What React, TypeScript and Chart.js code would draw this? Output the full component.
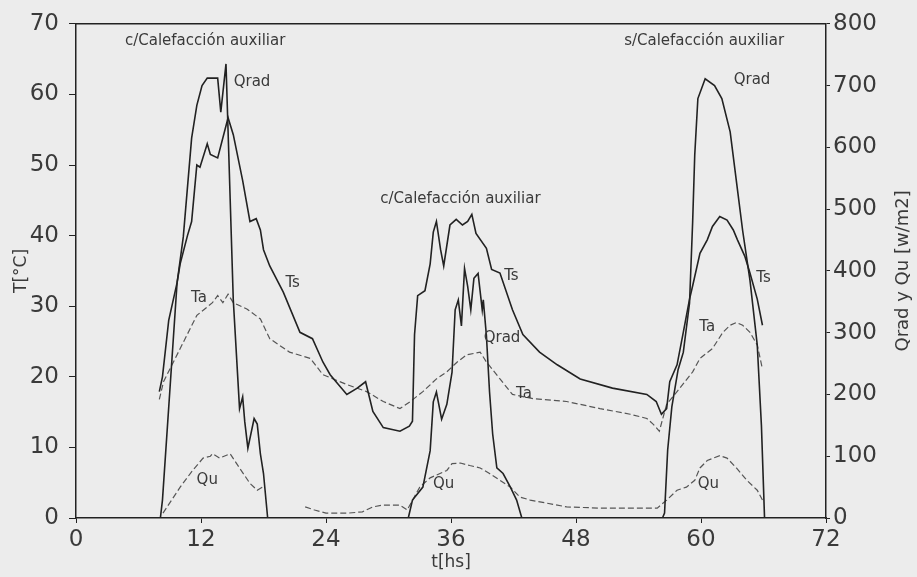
import React, { useEffect, useRef } from "react";
import { Chart, registerables } from "chart.js";

Chart.register(...registerables);

// ---- axis ticks ----
const hourTicks = [0, 12, 24, 36, 48, 60, 72];
const tempTicks = [0, 10, 20, 30, 40, 50, 60, 70];
const radTicks = [0, 100, 200, 300, 400, 500, 600, 700, 800];

// ---- Qrad (solid, W/m2, right axis) ----
const qradHours = [8.1, 8.3, 9.0, 9.7, 10.3, 11.1, 11.6, 12.1, 12.6, 13.6, 13.9, 14.4, 15.1, 15.7, 16.0, 16.2, 16.5, 17.1, 17.4, 17.7, 18.0, 18.4,
  31.9, 32.3, 33.3, 34.0, 34.3, 34.6, 35.1, 35.6, 36.1, 36.4, 36.7, 37.0, 37.3, 37.6, 37.9, 38.2, 38.6, 39.0, 39.1, 39.4, 39.7, 40.0, 40.4, 41.0, 41.7, 42.3, 42.8,
  56.3, 56.5, 56.8, 57.2, 57.8, 58.3, 58.9, 59.2, 59.4, 59.7, 60.4, 61.3, 62.0, 62.8, 63.4, 64.0, 64.7, 65.4, 65.8, 66.1];
const qradValues = [0, 29, 204, 380, 455, 615, 668, 700, 712, 712, 657, 735, 353, 177, 196, 156, 113, 161, 152, 104, 72, 0,
  0, 29, 50, 109, 188, 204, 160, 184, 236, 337, 353, 311, 404, 375, 337, 388, 396, 337, 353, 295, 204, 136, 81, 72, 50, 29, 0,
  0, 8, 110, 180, 240, 268, 348, 480, 588, 679, 711, 700, 679, 625, 545, 465, 385, 280, 150, 0];

// ---- Ts (solid, °C, left axis) ----
const tsHours = [8.0, 8.3, 8.9, 9.7, 10.0, 10.7, 11.1, 11.6, 11.9, 12.6, 12.9, 13.6, 14.6, 15.1, 16.0, 16.7, 17.3, 17.7, 18.0, 18.6, 19.9, 21.5, 22.7, 23.7, 24.4, 26.0, 27.0, 27.8, 28.5, 29.5, 31.1, 32.0, 32.3,
  32.5, 32.8, 33.5, 34.0, 34.3, 34.6, 35.0, 35.3, 35.9, 36.5, 37.1, 37.6, 38.0, 38.4, 39.4, 39.9, 40.7, 41.9, 42.9, 44.5, 46.2, 48.4, 51.5, 54.8, 55.7, 56.2,
  56.7, 57.0, 57.7, 58.3, 58.9, 59.2, 59.9, 60.6, 61.1, 61.8, 62.5, 63.1, 63.5, 64.2, 64.7, 65.4, 65.9];
const tsValues = [17.9, 20, 28, 33.3, 36, 40, 42, 50, 49.7, 53, 51.5, 51, 56.7, 54.3, 47.8, 42, 42.4, 40.8, 38, 35.7, 32, 26.3, 25.4, 22.1, 20.3, 17.5, 18.4, 19.3, 15.1, 12.8, 12.3, 13, 13.7,
  26, 31.5, 32.2, 36, 40.5, 42, 38, 35.7, 41.5, 42.3, 41.5, 42, 43, 40.3, 38.2, 35.2, 34.7, 29.5, 26, 23.5, 21.7, 19.7, 18.4, 17.5, 16.5, 14.7,
  15.5, 19.3, 21.7, 26.3, 31, 32.9, 37.5, 39.4, 41.3, 42.7, 42.2, 40.8, 39.4, 37.1, 34.7, 31, 27.3];

// ---- Ta (dashed, °C, left axis) ----
const taHours = [8.0, 8.4, 10.0, 11.6, 13.1, 13.6, 14.1, 14.6, 15.1, 16.4, 17.7, 18.6, 20.5, 22.5, 23.7, 26.0, 27.9, 29.5, 31.1, 32.1, 33.3, 34.6, 35.6, 36.6, 37.5, 38.8, 39.4, 40.7, 41.9, 43.9, 47.1, 50.3, 53.2, 54.8, 55.4, 56.0,
  56.7, 57.7, 59.2, 59.9, 61.1, 62.1, 62.8, 63.4, 64.0, 64.7, 65.4, 65.9];
const taValues = [16.8, 19.3, 24, 28.7, 30.5, 31.5, 30.5, 31.7, 30.5, 29.6, 28.2, 25.4, 23.5, 22.6, 20.3, 18.9, 17.9, 16.5, 15.5, 16.5, 17.9, 19.7, 20.7, 22.1, 23.1, 23.5, 22.1, 19.7, 17.5, 16.9, 16.5, 15.5, 14.7, 14.1, 13.3, 12.3,
  16.1, 17.9, 20.7, 22.6, 24, 26.3, 27.3, 27.7, 27.3, 26.3, 24.5, 21.1];

// ---- Qu (dashed, W/m2, right axis) ----
const quHours = [8.35, 10.0, 11.2, 12.2, 12.9, 13.1, 13.8, 14.8, 15.7, 16.7, 17.4, 17.9, 18.0, 22.0, 22.9, 24.0, 26.2, 27.5, 28.5, 29.5, 31.1, 31.8,
  33.0, 34.0, 35.6, 36.1, 36.9, 37.8, 38.8, 39.7, 40.7, 41.7, 42.6, 43.6, 45.2, 47.1, 50.3, 55.8,
  56.7, 57.7, 58.6, 59.4, 59.9, 60.6, 61.8, 62.5, 63.4, 64.4, 65.4, 65.9];
const quValues = [8, 50, 77, 97, 100, 104, 97, 104, 81, 56, 45, 50, null, 18, 13, 8, 8, 10, 18, 21, 21, 13,
  50, 65, 77, 88, 89, 85, 81, 72, 61, 50, 34, 29, 24, 18, 16, 16,
  29, 45, 50, 61, 81, 93, 101, 97, 81, 61, 45, 29];

// ---- in-plot notes (placed at hour / °C) ----
const noteTexts = ["c/Calefacción auxiliar", "Qrad", "Ts", "Ta", "Qu",
  "c/Calefacción auxiliar", "Ts", "Qrad", "Ta", "Qu",
  "s/Calefacción auxiliar", "Qrad", "Ts", "Ta", "Qu"];
const noteHours = [12.4, 16.9, 20.8, 11.8, 12.6, 36.9, 41.8, 40.9, 43.0, 35.3, 60.3, 64.9, 66.0, 60.6, 60.7];
const noteTemps = [67.6, 61.8, 33.3, 31.2, 5.3, 45.2, 34.2, 25.5, 17.5, 4.8, 67.6, 62.0, 34.0, 27.0, 4.8];

const xLabel = "t[hs]";
const yLabel = "T[°C]";
const y2Label = "Qrad y Qu [w/m2]";

const INK = "#222";
const TEXT = "#3a3a3a";
const FONT = "'DejaVu Sans', sans-serif";

function pts(xs: number[], ys: (number | null)[]) {
  return xs.map((x, i) => ({ x, y: ys[i] }));
}

const notesPlugin = {
  id: "notes",
  afterDatasetsDraw(chart: any) {
    const { ctx, chartArea, scales } = chart;
    ctx.save();
    ctx.strokeStyle = INK;
    ctx.lineWidth = 1.5;
    ctx.beginPath();
    ctx.moveTo(chartArea.left, chartArea.top);
    ctx.lineTo(chartArea.right, chartArea.top);
    ctx.stroke();

    ctx.fillStyle = TEXT;
    ctx.font = `15px ${FONT}`;
    ctx.textAlign = "center";
    ctx.textBaseline = "middle";
    noteTexts.forEach((t, i) => {
      ctx.fillText(t, scales.x.getPixelForValue(noteHours[i]), scales.y.getPixelForValue(noteTemps[i]));
    });

    const y2 = scales.y2;
    ctx.translate(y2.right - 14, (chartArea.top + chartArea.bottom) / 2);
    ctx.rotate(-Math.PI / 2);
    ctx.font = `18px ${FONT}`;
    ctx.fillText(y2Label, 0, 0);
    ctx.restore();
  },
};

export default function App() {
  const ref = useRef<HTMLCanvasElement | null>(null);
  useEffect(() => {
    if (!ref.current) return;
    const solid = { borderColor: INK, borderWidth: 1.6, pointRadius: 0, tension: 0, fill: false, spanGaps: false };
    const dashed = { borderColor: "#555", borderWidth: 1.2, borderDash: [6, 3], pointRadius: 0, tension: 0, fill: false, spanGaps: false };
    const chart = new Chart(ref.current, {
      type: "line",
      data: {
        datasets: [
          { label: "Qrad", data: pts(qradHours, qradValues), yAxisID: "y2", ...solid },
          { label: "Ts", data: pts(tsHours, tsValues), yAxisID: "y", ...solid },
          { label: "Ta", data: pts(taHours, taValues), yAxisID: "y", ...dashed },
          { label: "Qu", data: pts(quHours, quValues), yAxisID: "y2", ...dashed },
        ],
      } as any,
      options: {
        animation: false,
        responsive: false,
        maintainAspectRatio: false,
        layout: { padding: { top: 17, left: 0, right: 0, bottom: 0 } },
        plugins: { legend: { display: false }, tooltip: { enabled: false } },
        scales: {
          x: {
            type: "linear",
            min: 0,
            max: 72,
            afterBuildTicks: (s: any) => { s.ticks = hourTicks.map((v) => ({ value: v })); },
            afterFit: (s: any) => { s.height = 59; },
            grid: { drawOnChartArea: false, drawTicks: true, tickLength: 5, color: INK },
            border: { display: true, color: INK, width: 1.5 },
            ticks: { color: TEXT, font: { family: FONT, size: 23 }, padding: 3, maxRotation: 0 },
            title: { display: true, text: xLabel, color: TEXT, font: { family: FONT, size: 17 }, padding: { top: 0, bottom: 4 } },
          },
          y: {
            type: "linear",
            position: "left",
            min: 0,
            max: 70,
            afterBuildTicks: (s: any) => { s.ticks = tempTicks.map((v) => ({ value: v })); },
            afterFit: (s: any) => { s.width = 76; },
            grid: { drawOnChartArea: false, drawTicks: true, tickLength: 7, color: INK },
            border: { display: true, color: INK, width: 1.5 },
            ticks: { color: TEXT, font: { family: FONT, size: 23 }, padding: 10 },
            title: { display: true, text: yLabel, color: TEXT, font: { family: FONT, size: 17 }, padding: { top: 11, bottom: 0 } },
          },
          y2: {
            type: "linear",
            position: "right",
            min: 0,
            max: 800,
            afterBuildTicks: (s: any) => { s.ticks = radTicks.map((v) => ({ value: v })); },
            afterFit: (s: any) => { s.width = 91; },
            grid: { drawOnChartArea: false, drawTicks: true, tickLength: 4, color: INK },
            border: { display: true, color: INK, width: 1.5 },
            ticks: { color: TEXT, font: { family: FONT, size: 23 }, padding: 3 },
          },
        },
      } as any,
      plugins: [notesPlugin],
    });
    return () => chart.destroy();
  }, []);

  return (
    <div style={{ position: "fixed", left: 0, top: 0, width: 917, height: 577, background: "#ececec" }}>
      <canvas ref={ref} width={917} height={577} style={{ display: "block", width: 917, height: 577 }} />
    </div>
  );
}
